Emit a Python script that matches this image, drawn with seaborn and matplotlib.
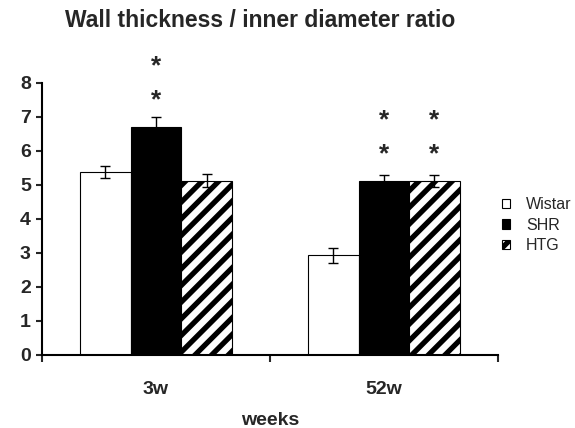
import matplotlib
matplotlib.use("Agg")
import matplotlib.pyplot as plt
import seaborn as sns
import pandas as pd
from matplotlib.patches import Patch

weeks = ["3w", "52w"]
strains = ["Wistar", "SHR", "HTG"]
values = {
    "Wistar": [5.38, 2.93],
    "SHR": [6.71, 5.12],
    "HTG": [5.13, 5.12],
}
errors = {
    "Wistar": [0.17, 0.22],
    "SHR": [0.30, 0.17],
    "HTG": [0.18, 0.17],
}
stars = {
    "Wistar": [0, 0],
    "SHR": [2, 2],
    "HTG": [0, 2],
}
title = "Wall thickness / inner diameter ratio"
xlabel = "weeks"

sns.set_style("white")
plt.rcParams["font.family"] = ["Liberation Sans", "DejaVu Sans"]
plt.rcParams["hatch.linewidth"] = 3.8
plt.rcParams["hatch.color"] = "black"

rows = []
for s in strains:
    for i, w in enumerate(weeks):
        rows.append({"week": w, "strain": s, "value": values[s][i]})
df = pd.DataFrame(rows)

fig = plt.figure(figsize=(5.75, 4.28), dpi=100)
ax = fig.add_axes([0.073, 0.1706, 0.793, 0.6355])

sns.barplot(data=df, x="week", y="value", hue="strain", order=weeks,
            hue_order=strains,
            palette={"Wistar": "white", "SHR": "black", "HTG": "white"},
            edgecolor="black", linewidth=0.8, width=0.665, errorbar=None,
            legend=False, ax=ax, saturation=1)

for s, cont in zip(strains, ax.containers):
    for i, bar in enumerate(cont):
        if s == "HTG":
            bar.set_hatch("//")
        cx = bar.get_x() + bar.get_width() / 2
        h = bar.get_height()
        ax.errorbar(cx, h, yerr=errors[s][i], fmt="none", ecolor="black",
                    elinewidth=1, capsize=3.5, capthick=1)
        for k in range(stars[s][i]):
            y = h + 0.77 + k * 1.0
            ax.text(cx, y, "*", ha="center", va="center", fontsize=19,
                    fontweight="bold", clip_on=False)

ax.set_ylim(0, 8)
ax.set_xlim(-0.5, 1.5)
ax.set_yticks(range(0, 9))
ax.set_yticklabels([str(v) for v in range(0, 9)], fontsize=14, fontweight="bold")
ax.set_xticks([0, 1])
ax.set_xticklabels(weeks, fontsize=14, fontweight="bold")
ax.set_xticks([-0.5, 0.5, 1.5], minor=True)
ax.tick_params(axis="x", which="major", length=0, pad=19)
ax.tick_params(axis="x", which="minor", length=5, width=1.5, direction="out", bottom=True)
ax.tick_params(axis="y", which="major", length=4, width=1.5, direction="out", left=True, pad=4)
ax.set_xlabel(xlabel, fontsize=14, fontweight="bold", labelpad=9.5)
ax.set_ylabel("")
for side in ["top", "right"]:
    ax.spines[side].set_visible(False)
for side in ["left", "bottom"]:
    ax.spines[side].set_linewidth(1.5)
    ax.spines[side].set_color("black")

fig.text(0.453, 0.953, title, ha="center", va="center", fontsize=16.5, fontweight="bold")

handles = [
    Patch(facecolor="white", edgecolor="black", linewidth=0.8),
    Patch(facecolor="black", edgecolor="black", linewidth=0.8),
    Patch(facecolor="white", edgecolor="black", linewidth=0.8, hatch="//"),
]
fig.legend(handles, strains, loc="center left", bbox_to_anchor=(0.873, 0.474),
           frameon=False, fontsize=11.5, handlelength=0.5, handleheight=0.5,
           handletextpad=1.0, labelspacing=0.33, borderpad=0, borderaxespad=0)

fig.savefig("out.png", dpi=100)
